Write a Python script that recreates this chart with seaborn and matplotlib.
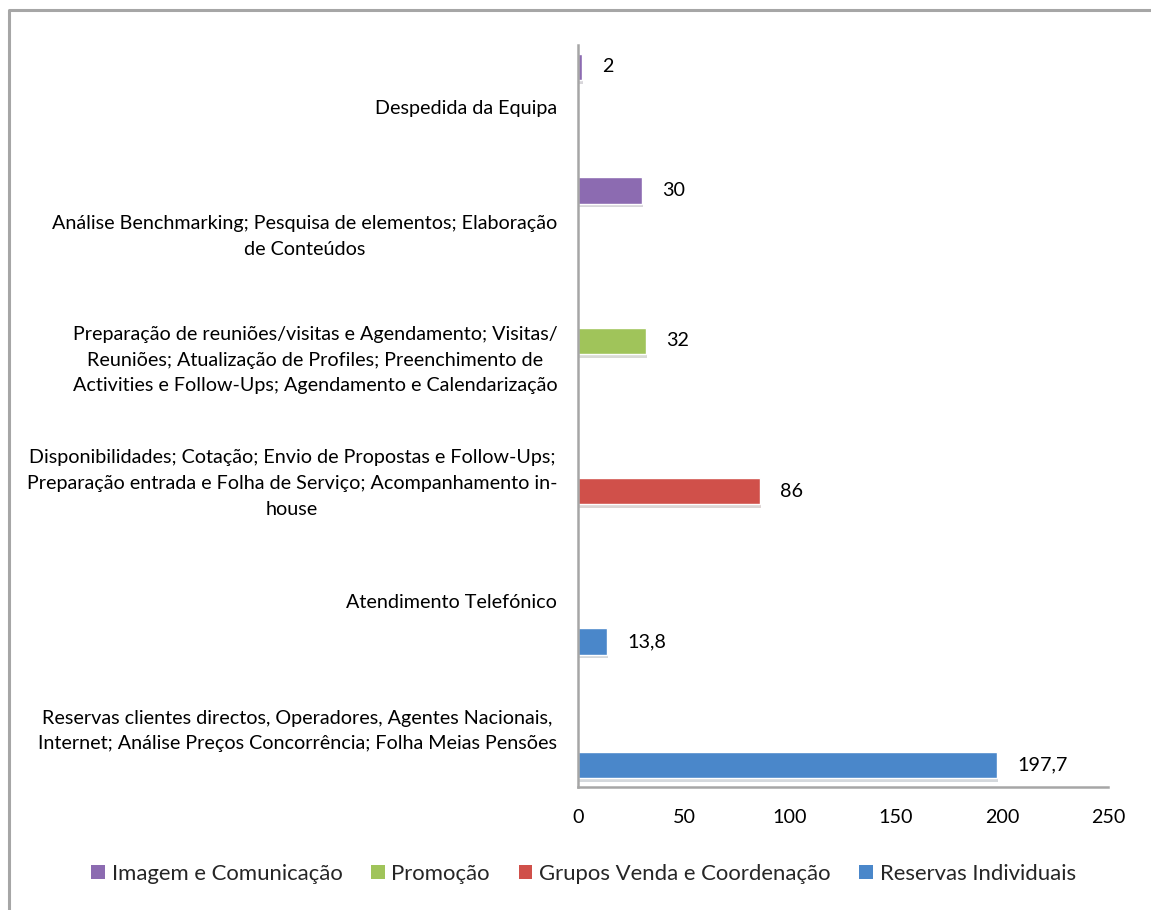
import matplotlib
matplotlib.use("Agg")
import matplotlib.pyplot as plt
import matplotlib.patheffects as pe
from matplotlib.lines import Line2D
from matplotlib.patches import Patch
import seaborn as sns
import pandas as pd

# ---- data ----
categories = [
    "Despedida da Equipa",
    "Análise Benchmarking; Pesquisa de elementos; Elaboração\nde Conteúdos",
    "Preparação de reuniões/visitas e Agendamento; Visitas/\nReuniões; Atualização de Profiles; Preenchimento de\nActivities e Follow-Ups; Agendamento e Calendarização",
    "Disponibilidades; Cotação; Envio de Propostas e Follow-Ups;\nPreparação entrada e Folha de Serviço; Acompanhamento in-\nhouse",
    "Atendimento Telefónico",
    "Reservas clientes directos, Operadores, Agentes Nacionais,\nInternet; Análise Preços Concorrência; Folha Meias Pensões",
]
series_names = ["Imagem e Comunicação", "Promoção",
                "Grupos Venda e Coordenação", "Reservas Individuais"]
category_series = ["Imagem e Comunicação", "Imagem e Comunicação", "Promoção",
                   "Grupos Venda e Coordenação", "Reservas Individuais",
                   "Reservas Individuais"]
values = [2, 30, 32, 86, 13.8, 197.7]
x_ticks = [0, 50, 100, 150, 200, 250]
colors = ["#8C6BB1", "#A0C45A", "#D0504A", "#4A87CA"]

df = pd.DataFrame({"cat": categories, "serie": category_series, "val": values})

sns.set_theme(style="white")
plt.rcParams["font.family"] = ["Lato", "DejaVu Sans"]

W, H = 1151, 910
fig = plt.figure(figsize=(W / 100, H / 100), dpi=100)
ax = fig.add_axes([578 / W, 1 - 787 / H, (1108 - 578) / W, (787 - 45) / H])

sns.barplot(data=df, x="val", y="cat", hue="serie", order=categories,
            hue_order=series_names, palette=colors, orient="h",
            width=0.86, dodge=True, ax=ax, legend=False, errorbar=None,
            saturation=1)

for c in ax.containers:
    for bar in c:
        bar.set_path_effects([pe.SimplePatchShadow(offset=(0.8, -2.5), alpha=0.18),
                              pe.Normal()])
        w = bar.get_width()
        if w != w or w == 0:
            continue
        txt = ("%d" % w) if float(w).is_integer() else ("%.1f" % w).replace(".", ",")
        ax.annotate(txt, (w, bar.get_y() + bar.get_height() / 2),
                    xytext=(14.5, 0), textcoords="offset points",
                    va="center", ha="left", fontsize=14.2, color="black")

ax.set_xlim(0, 250)
ax.set_xticks(x_ticks)
ax.set_xticklabels([str(t) for t in x_ticks])
ax.set_xlabel("")
ax.set_ylabel("")
ax.tick_params(axis="both", length=0, labelsize=14.2, colors="black")
ax.tick_params(axis="x", pad=16)
ax.tick_params(axis="y", pad=15)
for lbl in ax.get_yticklabels():
    lbl.set_multialignment("center")
    lbl.set_linespacing(1.62)
for s in ["top", "right"]:
    ax.spines[s].set_visible(False)
for s in ["left", "bottom"]:
    ax.spines[s].set_color("#A6A6A6")
    ax.spines[s].set_linewidth(1.8)
ax.grid(False)

handles = [Patch(facecolor=c, edgecolor="none") for c in colors]
fig.legend(handles, series_names, loc="center", bbox_to_anchor=(0.507, 1 - 874 / H),
           ncol=4, frameon=False, fontsize=15.9, handlelength=0.62, handleheight=0.62,
           handletextpad=0.3, columnspacing=1.3)

# outer chart frame
fig.add_artist(Line2D([8.5 / W, 8.5 / W, 1.0], [0, 1 - 10 / H, 1 - 10 / H],
                      transform=fig.transFigure, color="#A6A6A6", lw=2.2))

fig.savefig("out.png", dpi=100)
